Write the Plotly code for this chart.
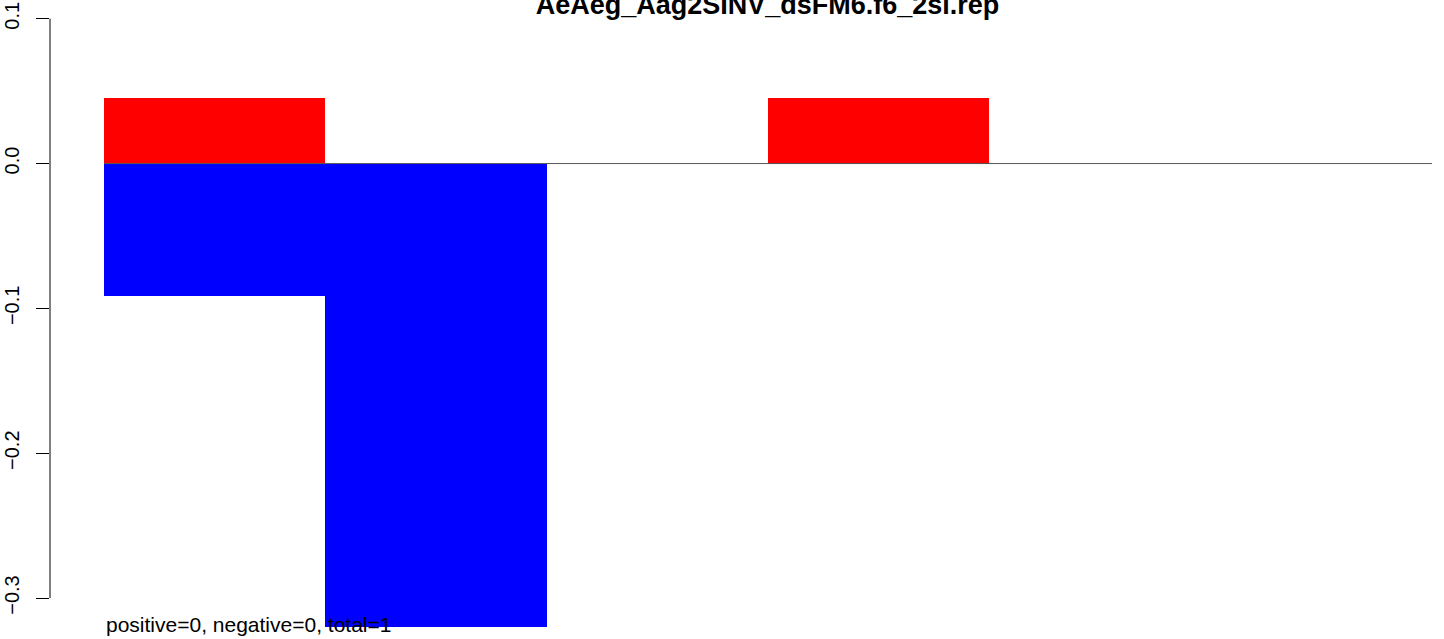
import plotly.graph_objects as go

# ---- data ----
categories = [1, 2, 3, 4, 5, 6]          # bar slots, left to right
positive_vals = [0.0455, 0.0, 0.0, 0.0455, 0.0, 0.0]
negative_vals = [-0.0915, -0.32, 0.0, 0.0, 0.0, 0.0]
y_tick_vals = [-0.3, -0.2, -0.1, 0.0, 0.1]
y_tick_text = ["\u22120.3", "\u22120.2", "\u22120.1", "0.0", "0.1"]
title_text = "AeAeg_Aag2SINV_dsFM6.f6_2sl.rep"
note_text = "positive=0, negative=0, total=1"

# bar centres 0.5, 1.5, ...
x_pos = [c - 0.5 for c in categories]
n = len(categories)

FONT = "Liberation Sans, Arial, Helvetica, sans-serif"

fig = go.Figure()
fig.add_trace(go.Bar(x=x_pos, y=positive_vals, width=1.0,
                     marker=dict(color="#FF0000", line=dict(width=0)),
                     showlegend=False, hoverinfo="y"))
fig.add_trace(go.Bar(x=x_pos, y=negative_vals, width=1.0,
                     marker=dict(color="#0000FF", line=dict(width=0)),
                     showlegend=False, hoverinfo="y"))

W, H = 1444, 639
ml, mr, mt, mb = 50, 0, 18, 11
px_per_unit = (1432 - 104) / n
x0 = -(104 - ml) / px_per_unit
x1 = n + (W - 1432 - mr) / px_per_unit
y_top = 0.1
px_per_y = (163 - 18) / 0.1
y_bot = -(H - mb - 163) / px_per_y

fig.update_layout(
    width=W, height=H,
    margin=dict(l=ml, r=mr, t=mt, b=mb, pad=0, autoexpand=False),
    paper_bgcolor="white", plot_bgcolor="white",
    barmode="relative", bargap=0,
    font=dict(family=FONT, color="black", size=20),
    title=dict(text="<b>" + title_text + "</b>", x=767.5 / W, xref="container",
               xanchor="center", y=1 - 14 / H, yref="container", yanchor="bottom",
               automargin=False,
               font=dict(family=FONT, size=27, color="black")),
    xaxis=dict(range=[x0, x1], visible=False, showgrid=False, zeroline=False,
               fixedrange=True, automargin=False),
    yaxis=dict(range=[y_bot, y_top + 0.0005], showgrid=False, zeroline=False,
               showline=False, tickmode="array", tickvals=y_tick_vals,
               ticktext=y_tick_text, ticks="outside", ticklen=13, tickwidth=1,
               tickcolor="black", tickangle=-90, automargin=False,
               ticklabelstandoff=9,
               tickfont=dict(family=FONT, size=20, color="black")),
    shapes=[
        # y axis line spanning the tick range (R style)
        dict(type="line", xref="paper", yref="y", x0=0, x1=0,
             y0=min(y_tick_vals), y1=max(y_tick_vals),
             line=dict(color="black", width=1)),
        # zero reference line across the bars
        dict(type="line", xref="x", yref="y", x0=0, x1=n, y0=0, y1=0,
             line=dict(color="#555555", width=1), layer="above"),
    ],
    annotations=[
        dict(text=note_text, xref="x", yref="y", x=0, y=-(624 - 163) / px_per_y,
             xanchor="left", yanchor="middle", showarrow=False,
             font=dict(family=FONT, size=21, color="black")),
    ],
)

fig.write_html("out.html",
               config={"displayModeBar": False},
               post_script="document.body.style.margin='0';"
                           "document.body.style.overflow='hidden';")
